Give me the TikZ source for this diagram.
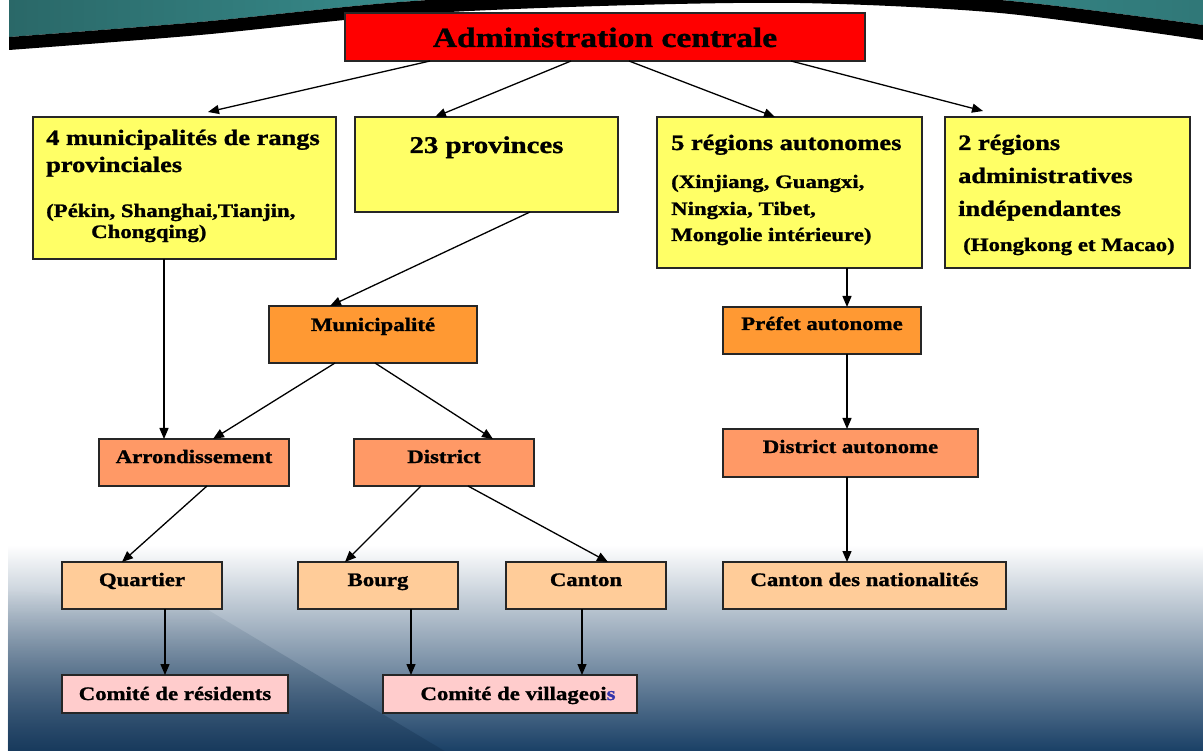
\documentclass[tikz,border=0pt]{standalone}
\usepackage{fontspec}
\setmainfont{Liberation Serif}[FakeStretch=1.2, BoldFeatures={FakeBold=1.2}]
\usetikzlibrary{arrows.meta,fadings,calc}
\definecolor{redbox}{HTML}{FF0000}
\definecolor{yelbox}{HTML}{FFFF66}
\definecolor{orgA}{HTML}{FF9933}
\definecolor{orgB}{HTML}{FF9966}
\definecolor{orgC}{HTML}{FFCC99}
\definecolor{pinkbox}{HTML}{FFCCCC}
\definecolor{tealdark}{HTML}{2A6868}
\definecolor{teallight}{HTML}{3E9C9C}
\definecolor{navy}{HTML}{1A4066}
\definecolor{midblue}{HTML}{9FB2C3}
\definecolor{sblue}{HTML}{3333AA}
\tikzset{
  box/.style={draw=black!85, line width=1.2pt, inner sep=0pt, outer sep=0pt, anchor=north west},
  conn/.style={draw=black, line width=1.3pt, -{Triangle[length=11pt,width=9pt]}},
  big/.style={font=\bfseries\fontsize{22}{26}\selectfont, inner sep=0pt, anchor=base west},
  sub/.style={font=\bfseries\fontsize{19}{22}\selectfont, inner sep=0pt, anchor=base west},
  lbl/.style={font=\bfseries\fontsize{19}{22}\selectfont, inner sep=0pt, anchor=base},
}
\begin{document}
\begin{tikzpicture}[x=1pt,y=-1pt]
\useasboundingbox (0,0) rectangle (1203,751);
\fill[white] (0,0) rectangle (1203,751);
% bottom gradient
\shade[top color=white, middle color=midblue, bottom color=navy] (8,545) rectangle (1203,751);
\fill[navy!80!black, opacity=0.45, path fading=north] (8,590) -- (200,605) -- (445,751) -- (8,751) -- cycle;
% top swoosh
\shade[left color=tealdark, right color=tealdark!70!teallight, middle color=teallight]
  (9,-10) -- plot[smooth] coordinates {(9,37) (200,22) (400,2) (600,-8) (800,-8) (1000,0) (1203,25)} -- (1203,-10) -- cycle;
\fill[black] plot[smooth] coordinates {(9,37) (200,22) (400,2) (600,-8) (800,-8) (1000,0) (1203,25)}
  -- plot[smooth] coordinates {(1203,40) (1000,13) (800,3) (600,6) (400,15) (200,35) (9,50)} -- cycle;

% boxes
\node[box, fill=redbox, minimum width=520pt, minimum height=48pt] (admin) at (345,13) {};
\node[font=\bfseries\fontsize{28}{32}\selectfont, inner sep=0pt, anchor=base] at ([yshift=-34pt]admin.north) {Administration centrale};

\node[box, fill=yelbox, minimum width=303pt, minimum height=142pt] (b1) at (33,117) {};
\path (b1.north west) ++(13,28) node[big] {4 municipalités de rangs};
\path (b1.north west) ++(13,55) node[big] {provinciales};
\path (b1.north west) ++(13,100) node[sub] {(Pékin, Shanghai,Tianjin,};
\path (b1.north west) ++(58,121) node[sub] {Chongqing)};

\node[box, fill=yelbox, minimum width=263pt, minimum height=95pt] (b2) at (355,117) {};
\path (b2.north) ++(0,36) node[font=\bfseries\fontsize{24}{28}\selectfont, inner sep=0pt, anchor=base] {23 provinces};

\node[box, fill=yelbox, minimum width=265pt, minimum height=151pt] (b3) at (657,117) {};
\path (b3.north west) ++(14,33) node[big] {5 régions autonomes};
\path (b3.north west) ++(14,71) node[sub] {(Xinjiang, Guangxi,};
\path (b3.north west) ++(14,98) node[sub] {Ningxia, Tibet,};
\path (b3.north west) ++(14,124) node[sub] {Mongolie intérieure)};

\node[box, fill=yelbox, minimum width=245pt, minimum height=151pt] (b4) at (945,117) {};
\path (b4.north west) ++(13,33) node[big] {2 régions};
\path (b4.north west) ++(13,66) node[big] {administratives};
\path (b4.north west) ++(13,99) node[big] {indépendantes};
\path (b4.north west) ++(18,134) node[sub] {(Hongkong et Macao)};

\node[box, fill=orgA, minimum width=208pt, minimum height=57pt] (mun) at (269,306) {};
\path (mun.north) ++(0,25) node[lbl] {Municipalité};

\node[box, fill=orgA, minimum width=198pt, minimum height=47pt] (pref) at (723,307) {};
\path (pref.north) ++(0,23) node[lbl] {Préfet autonome};

\node[box, fill=orgB, minimum width=190pt, minimum height=47pt] (arr) at (99,439) {};
\path (arr.north) ++(0,24) node[lbl] {Arrondissement};

\node[box, fill=orgB, minimum width=180pt, minimum height=47pt] (dist) at (354,439) {};
\path (dist.north) ++(0,24) node[lbl] {District};

\node[box, fill=orgB, minimum width=255pt, minimum height=48pt] (da) at (723,429) {};
\path (da.north) ++(0,24) node[lbl] {District autonome};

\node[box, fill=orgC, minimum width=160pt, minimum height=47pt] (quart) at (62,562) {};
\path (quart.north) ++(0,24) node[lbl] {Quartier};

\node[box, fill=orgC, minimum width=160pt, minimum height=47pt] (bourg) at (298,562) {};
\path (bourg.north) ++(0,24) node[lbl] {Bourg};

\node[box, fill=orgC, minimum width=160pt, minimum height=47pt] (canton) at (506,562) {};
\path (canton.north) ++(0,24) node[lbl] {Canton};

\node[box, fill=orgC, minimum width=283pt, minimum height=47pt] (cdn) at (723,562) {};
\path (cdn.north) ++(0,24) node[lbl] {Canton des nationalités};

\node[box, fill=pinkbox, minimum width=226pt, minimum height=38pt] (cr) at (62,675) {};
\path (cr.north) ++(0,25) node[lbl] {Comité de résidents};

\node[box, fill=pinkbox, minimum width=254pt, minimum height=38pt] (cv) at (383,675) {};
\path (cv.north) ++(8,25) node[lbl] {Comité de villageoi\textcolor{sblue}{s}};

% connectors
\draw[conn] ([xshift=85pt]admin.south west) -- ([xshift=175pt,yshift=5pt]b1.north west);
\draw[conn] ([xshift=226pt]admin.south west) -- ([xshift=80pt]b2.north west);
\draw[conn] ([xshift=284pt]admin.south west) -- ([xshift=118pt]b3.north west);
\draw[conn] ([xshift=446pt]admin.south west) -- ([xshift=38pt,yshift=6pt]b4.north west);
\draw[conn] ([xshift=131pt]b1.south west) -- ([xshift=65pt]arr.north west);
\draw[conn] ([xshift=175pt]b2.south west) -- ([xshift=61pt]mun.north west);
\draw[conn] ([xshift=66pt]mun.south west) -- ([xshift=114pt]arr.north west);
\draw[conn] ([xshift=106pt]mun.south west) -- ([xshift=139pt]dist.north west);
\draw[conn] ([xshift=190pt]b3.south west) -- ([xshift=124pt]pref.north west);
\draw[conn] ([xshift=124pt]pref.south west) -- ([xshift=124pt]da.north west);
\draw[conn] ([xshift=124pt]da.south west) -- ([xshift=124pt]cdn.north west);
\draw[conn] ([xshift=108pt]arr.south west) -- ([xshift=60pt]quart.north west);
\draw[conn] ([xshift=67pt]dist.south west) -- ([xshift=47pt]bourg.north west);
\draw[conn] ([xshift=114pt]dist.south west) -- ([xshift=102pt]canton.north west);
\draw[conn] ([xshift=103pt]quart.south west) -- ([xshift=103pt]cr.north west);
\draw[conn] ([xshift=113pt]bourg.south west) -- ([xshift=28pt]cv.north west);
\draw[conn] ([xshift=76pt]canton.south west) -- ([xshift=199pt]cv.north west);
\end{tikzpicture}
\end{document}
